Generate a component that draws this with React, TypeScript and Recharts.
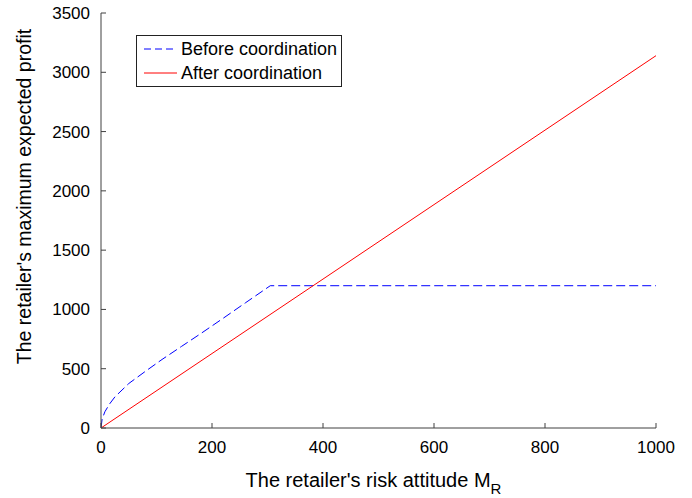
import React from 'react';
import { LineChart, Line, XAxis, YAxis } from 'recharts';

const riskAttitudeBefore = [0, 2, 7, 15, 25, 50, 80, 110, 145, 180, 220, 260, 305, 1000];
const profitBefore = [0, 75, 137, 200, 262, 375, 478, 578, 688, 797, 925, 1055, 1200, 1200];
const riskAttitudeAfter = [0, 1000];
const profitAfter = [0, 3140];
const xTicks = [0, 200, 400, 600, 800, 1000];
const yTicks = [0, 500, 1000, 1500, 2000, 2500, 3000, 3500];
const seriesNames = ['Before coordination', 'After coordination'];
const xLabel = "The retailer's risk attitude M";
const xLabelSub = 'R';
const yLabel = "The retailer's maximum expected profit";

const beforeData = riskAttitudeBefore.map((m, i) => ({ m, profit: profitBefore[i] }));
const afterData = riskAttitudeAfter.map((m, i) => ({ m, profit: profitAfter[i] }));

const FONT = "'Liberation Sans', Arial, Helvetica, sans-serif";
const AXIS = '#404040';
const BLUE = '#0000ff';
const RED = '#ff0000';

const XLabel = (props: any) => {
  const vb = props.viewBox;
  return (
    <text x={vb.x + vb.width / 2 - 5} y={vb.y + 59} textAnchor="middle" fontFamily={FONT} fontSize={20} fill="#000">
      {xLabel}
      <tspan dy={7} fontSize={15}>{xLabelSub}</tspan>
    </text>
  );
};

const YLabel = (props: any) => {
  const vb = props.viewBox;
  const cx = 24;
  const cy = vb.y + vb.height / 2 - 24;
  return (
    <text x={cx} y={cy} transform={`rotate(-90 ${cx} ${cy})`} textAnchor="middle" dominantBaseline="central" fontFamily={FONT} fontSize={19.5} fill="#000">
      {yLabel}
    </text>
  );
};

const LegendBox = () => (
  <svg width={206} height={52} style={{ display: 'block' }}>
    <rect x={0.5} y={0.5} width={205} height={51} fill="#fff" stroke="#222" strokeWidth={1} />
    <line x1={8} y1={14} x2={41} y2={14} stroke={BLUE} strokeWidth={1} strokeDasharray="7 4" />
    <text x={45} y={20} fontFamily={FONT} fontSize={18} fill="#000">{seriesNames[0]}</text>
    <line x1={8} y1={38} x2={41} y2={38} stroke={RED} strokeWidth={1} />
    <text x={45} y={44} fontFamily={FONT} fontSize={18} fill="#000">{seriesNames[1]}</text>
  </svg>
);

export default function App() {
  return (
    <div style={{ position: 'absolute', left: 0, top: 0, width: 692, height: 498, background: '#fff' }}>
      <LineChart width={692} height={498} margin={{ top: 13, right: 36, bottom: 0, left: 0 }}>
        <XAxis
          xAxisId="b"
          dataKey="m"
          type="number"
          domain={[0, 1000]}
          ticks={xTicks}
          orientation="bottom"
          height={70}
          stroke={AXIS}
          tickSize={-5}
          tickMargin={18}
          tick={{ fill: '#000', fontSize: 17, fontFamily: FONT }}
          label={<XLabel />}
          allowDataOverflow
        />
        <XAxis
          xAxisId="t"
          dataKey="m"
          type="number"
          domain={[0, 1000]}
          ticks={xTicks}
          orientation="top"
          height={0}
          stroke={AXIS}
          tickSize={-5}
          tick={false}
        />
        <YAxis
          yAxisId="l"
          type="number"
          domain={[0, 3500]}
          ticks={yTicks}
          orientation="left"
          width={101}
          stroke={AXIS}
          tickSize={-5}
          tickMargin={16}
          tick={{ fill: '#000', fontSize: 17, fontFamily: FONT }}
          label={<YLabel />}
        />
        <YAxis
          yAxisId="r"
          type="number"
          domain={[0, 3500]}
          ticks={yTicks}
          orientation="right"
          width={0}
          stroke={AXIS}
          tickSize={-5}
          tick={false}
        />
        <Line
          xAxisId="b"
          yAxisId="l"
          data={beforeData}
          dataKey="profit"
          name={seriesNames[0]}
          type="linear"
          stroke={BLUE}
          strokeWidth={1}
          strokeDasharray="9 4"
          dot={false}
          isAnimationActive={false}
        />
        <Line
          xAxisId="b"
          yAxisId="l"
          data={afterData}
          dataKey="profit"
          name={seriesNames[1]}
          type="linear"
          stroke={RED}
          strokeWidth={1}
          dot={false}
          isAnimationActive={false}
        />
      </LineChart>
      <div style={{ position: 'absolute', left: 136, top: 35, width: 206, height: 52 }}>
        <LegendBox />
      </div>
    </div>
  );
}
